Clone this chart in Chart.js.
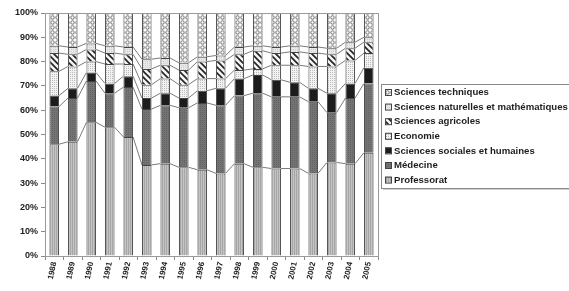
<!DOCTYPE html>
<html>
<head>
<meta charset="utf-8">
<script src="https://cdn.jsdelivr.net/npm/chart.js@4"></script>
<style>
  html, body { margin: 0; padding: 0; background: #fff; overflow: hidden; }
  canvas { display: block; }
</style>
</head>
<body>
<canvas id="statsFilieres" width="569" height="291"></canvas>
<script>
const annees = ['1988', '1989', '1990', '1991', '1992', '1993', '1994', '1995', '1996',
    '1997', '1998', '1999', '2000', '2001', '2002', '2003', '2004', '2005'];

// parts en %
const professorat = [46, 47, 55, 53, 49, 37.5, 38, 36.5, 35.5, 34, 38, 36.5, 36, 36, 34, 38.5, 38, 42.5];
const medecine = [15.5, 18, 17, 14, 20.5, 23, 24, 24.5, 27.5, 28, 28, 30.5, 29.5, 29.5, 29.5, 20.5, 27, 28.5];
const sciencesSociales = [4.5, 4, 3.5, 4, 4.5, 4.5, 5, 4, 5, 7, 7, 7.5, 7, 6, 5.5, 8, 6, 6.5];
const economie = [10, 9, 4.5, 8, 5, 5.5, 6, 5.5, 5, 4, 3.5, 2.5, 6, 7, 9, 11, 9.5, 6];
const sciencesAgricoles = [7.5, 5, 5, 4.5, 4, 6.5, 5.5, 6, 7, 7.5, 6.5, 7.5, 5, 5.5, 5.5, 5, 5, 4.5];
const sciencesNaturelles = [3, 3, 2.5, 3, 3, 4, 3, 3, 2, 2, 3, 2, 2.5, 2.5, 2.5, 2.5, 2.5, 2];
const sciencesTechniques = [13.5, 14, 12.5, 13.5, 14, 19, 18.5, 20.5, 18, 17.5, 14, 13.5, 14, 13.5, 14, 14.5, 12, 10];

const yTicks = [0, 10, 20, 30, 40, 50, 60, 70, 80, 90, 100];

function motif(size, bg, draw) {
    let c = document.createElement('canvas');
    c.width = size; c.height = size;
    let g = c.getContext('2d');
    g.fillStyle = bg;
    g.fillRect(0, 0, size, size);
    if (draw) draw(g);
    return document.getElementById('statsFilieres').getContext('2d').createPattern(c, 'repeat');
}

const pProfessorat = motif(2, '#c4c4c4', g => { g.fillStyle = '#a6a6a6'; g.fillRect(0, 0, 1, 2); });
const pMedecine = motif(2, '#747474', g => { g.fillStyle = '#626262'; g.fillRect(0, 0, 1, 1); });
const pSociales = '#1c1c1c';
const pEconomie = motif(2, '#f2f2f2', g => { g.fillStyle = '#bcbcbc'; g.fillRect(0, 0, 1, 1); });
const pAgricoles = motif(6, '#f4f4f4', g => {
    g.strokeStyle = '#222'; g.lineWidth = 1.6;
    g.beginPath();
    g.moveTo(-1, -1); g.lineTo(7, 7);
    g.moveTo(-4, 2); g.lineTo(2, 8);
    g.moveTo(2, -4); g.lineTo(8, 2);
    g.stroke();
});
const pNaturelles = motif(2, '#e8e8e8', g => { g.fillStyle = '#cfcfcf'; g.fillRect(1, 1, 1, 1); });
const pTechniques = motif(5, '#ffffff', g => {
    g.strokeStyle = '#858585'; g.lineWidth = 1.1;
    g.beginPath(); g.arc(2.5, 2.5, 1.7, 0, Math.PI * 2); g.stroke();
});

const police = { family: 'Liberation Sans, Arial, sans-serif', weight: 'bold', size: 9 };

// lignes de liaison entre les barres
const liaisons = {
    id: 'liaisons',
    beforeDatasetsDraw(chart) {
        let ctx = chart.ctx;
        ctx.save();
        ctx.strokeStyle = '#7a7a7a';
        ctx.lineWidth = 1;
        for (let k = 0; k < chart.data.datasets.length - 1; k++) {
            let pts = chart.getDatasetMeta(k).data;
            ctx.beginPath();
            for (let i = 0; i < pts.length - 1; i++) {
                ctx.moveTo(pts[i].x + pts[i].width / 2, pts[i].y);
                ctx.lineTo(pts[i + 1].x - pts[i + 1].width / 2, pts[i + 1].y);
            }
            ctx.stroke();
        }
        ctx.restore();
    },
    afterDraw(chart) {
        let ctx = chart.ctx, a = chart.chartArea;
        ctx.save();
        ctx.strokeStyle = '#9a9a9a';
        ctx.lineWidth = 1;
        ctx.strokeRect(a.left + 0.5, a.top + 0.5, a.right - a.left, a.bottom - a.top);
        ctx.restore();
    }
};

// légende encadrée à droite
const legende = {
    id: 'legende',
    afterDraw(chart) {
        let ctx = chart.ctx;
        let x = 381, y = 84, h = 104;
        ctx.save();
        ctx.fillStyle = '#d0d0d0';
        ctx.fillRect(x + 2, y + 2, 200, h);
        ctx.fillStyle = '#fff';
        ctx.fillRect(x, y, 200, h);
        ctx.strokeStyle = '#8a8a8a';
        ctx.strokeRect(x + 0.5, y + 0.5, 200, h);
        ctx.font = 'bold 9.6px "Liberation Sans", Arial, sans-serif';
        ctx.textBaseline = 'middle';
        let ds = chart.data.datasets.slice().reverse();
        ds.forEach((d, i) => {
            let yy = y + 8 + i * 14.6;
            ctx.fillStyle = d.backgroundColor;
            ctx.fillRect(x + 4, yy - 3, 6, 6);
            ctx.strokeStyle = '#444';
            ctx.strokeRect(x + 4.5, yy - 2.5, 6, 6);
            ctx.fillStyle = '#1e1e1e';
            ctx.fillText(d.label, x + 13, yy + 0.5);
        });
        ctx.restore();
    }
};

const serie = (label, data, bg) => ({
    label: label,
    data: data,
    backgroundColor: bg,
    borderColor: '#444',
    borderWidth: 1,
    barPercentage: 0.52,
    categoryPercentage: 1
});

new Chart(document.getElementById('statsFilieres').getContext('2d'), {
    type: 'bar',
    data: {
        labels: annees,
        datasets: [
            serie('Professorat', professorat, pProfessorat),
            serie('Médecine', medecine, pMedecine),
            serie('Sciences sociales et humaines', sciencesSociales, pSociales),
            serie('Economie', economie, pEconomie),
            serie('Sciences agricoles', sciencesAgricoles, pAgricoles),
            serie('Sciences naturelles et mathématiques', sciencesNaturelles, pNaturelles),
            serie('Sciences techniques', sciencesTechniques, pTechniques)
        ]
    },
    options: {
        responsive: false,
        animation: false,
        devicePixelRatio: 1,
        layout: { padding: { top: 13, right: 191, left: 0, bottom: 0 } },
        plugins: {
            legend: { display: false },
            tooltip: { enabled: false }
        },
        scales: {
            x: {
                stacked: true,
                grid: { offset: true, drawOnChartArea: false, tickLength: 4, color: '#8a8a8a' },
                border: { color: '#8a8a8a' },
                ticks: { minRotation: 78, maxRotation: 78, padding: 1, color: '#222', font: { ...police, size: 8 } },
                afterFit(s) { s.height = 35; }
            },
            y: {
                stacked: true,
                min: 0,
                max: 100,
                afterBuildTicks(s) { s.ticks = yTicks.map(v => ({ value: v })); },
                grid: { drawOnChartArea: false, tickLength: 4, color: '#8a8a8a' },
                border: { color: '#8a8a8a' },
                ticks: { padding: 3, color: '#222', font: police, callback: v => v + '%' },
                afterFit(s) { s.width = 45; }
            }
        }
    },
    plugins: [liaisons, legende]
});
</script>
</body>
</html>
